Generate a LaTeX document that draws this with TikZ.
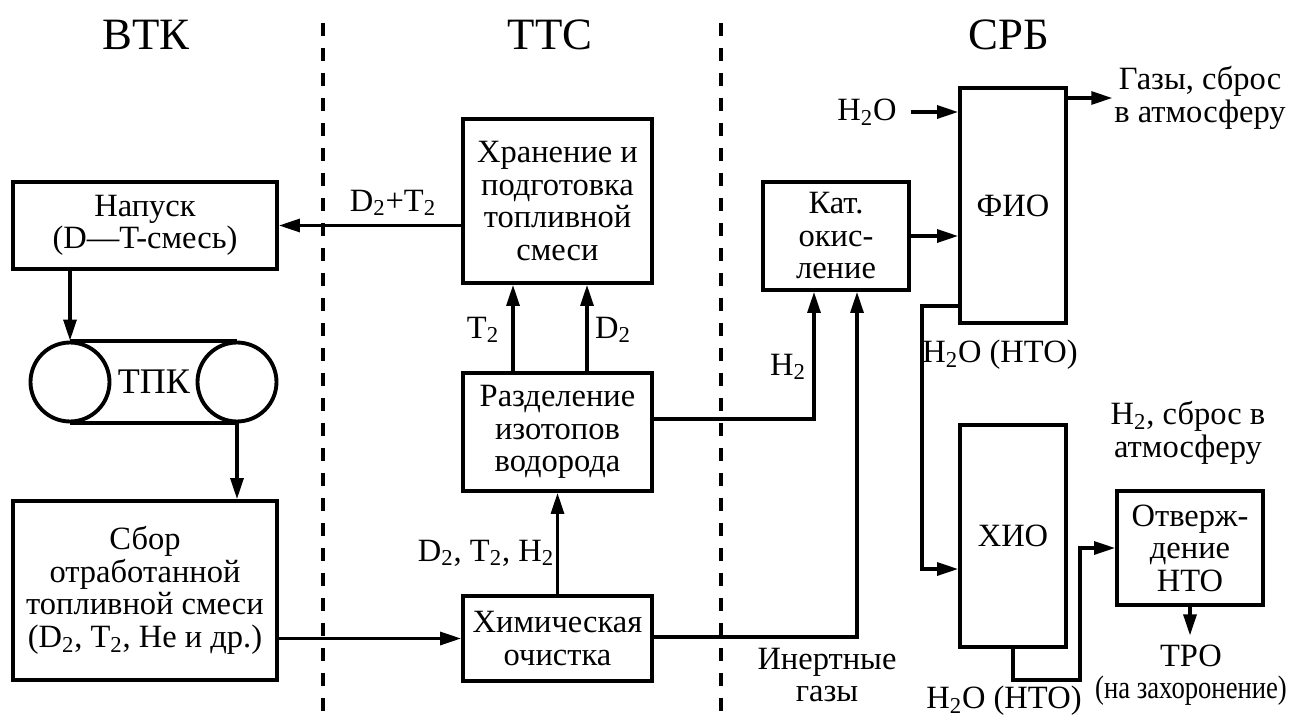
\documentclass[tikz,border=0pt]{standalone}
\usepackage{fontspec}
\setmainfont{Liberation Serif}
\usetikzlibrary{arrows.meta}

\begin{document}
\begin{tikzpicture}[x=0.02cm,y=-0.02cm,
    box/.style={draw,line width=2.2pt,align=center,inner sep=1pt,font=\fontsize{18.5}{18.5}\selectfont},
    lbl/.style={align=center,inner sep=1pt,font=\fontsize{18.5}{18.5}\selectfont},
    ttl/.style={font=\fontsize{25.5}{26}\selectfont},
    arr/.style={-{Triangle[length=0.42cm,width=0.26cm]},line width=1.8pt},
    sep/.style={dash pattern=on 0.26cm off 0.24cm,line width=2pt}]
  \useasboundingbox (0,0) rectangle (1292,720);
  \node[ttl] (vtk) at (146,35) {ВТК};
  \node[ttl] (tts) at (550,35) {ТТС};
  \node[ttl] (srb) at (1009,35) {СРБ};
  \coordinate (s1t) at (323,23); \coordinate (s1b) at (323,712);
  \coordinate (s2t) at (721,23); \coordinate (s2b) at (721,712);
  \draw[sep] (s1t) -- (s1b);
  \draw[sep] (s2t) -- (s2b);
  \node[box,minimum width=5.28cm,minimum height=1.74cm] (nap) at (145,225.5) {Напуск\\(D—T-смесь)};
  \node[draw,circle,line width=2.2pt,minimum size=1.58cm,inner sep=0pt] (tpkL) at (70,382) {};
  \node[draw,circle,line width=2.2pt,minimum size=1.58cm,inner sep=0pt] (tpkR) at (237,382) {};
  \node[lbl,font=\fontsize{20.5}{21}\selectfont] (tpk) at (154,382) {ТПК};
  \node[box,minimum width=5.28cm,minimum height=3.58cm] (sbor) at (145,590.5) {Сбор\\отработанной\\топливной смеси\\(D\textsubscript{2}, T\textsubscript{2}, He и др.)};
  \node[box,minimum width=3.78cm,minimum height=3.28cm] (hran) at (557.5,201) {Хранение и\\подготовка\\топливной\\смеси};
  \node[box,minimum width=3.78cm,minimum height=2.36cm] (razd) at (557.5,432) {Разделение\\изотопов\\водорода};
  \node[box,minimum width=3.78cm,minimum height=1.70cm] (him) at (557.5,638.5) {Химическая\\очистка};
  \node[box,minimum width=2.92cm,minimum height=2.16cm] (kat) at (836,236) {Кат.\\окис-\\ление};
  \node[box,minimum width=2.12cm,minimum height=4.70cm] (fio) at (1013,205.5) {ФИО};
  \node[box,minimum width=2.12cm,minimum height=4.44cm] (hio) at (1013,536) {ХИО};
  \node[box,minimum width=2.92cm,minimum height=2.28cm] (otv) at (1190,548) {Отверж-\\дение\\НТО};
  \node[lbl] (dt) at (393,203) {D\textsubscript{2}+T\textsubscript{2}};
  \node[lbl] (t2) at (483,330) {T\textsubscript{2}};
  \node[lbl] (d2) at (613,330) {D\textsubscript{2}};
  \node[lbl] (dth) at (486,553) {D\textsubscript{2}, T\textsubscript{2}, H\textsubscript{2}};
  \node[lbl] (h2) at (788,367) {H\textsubscript{2}};
  \node[lbl] (inert) at (827,675) {Инертные\\газы};
  \node[lbl] (h2o) at (867,112) {H\textsubscript{2}O};
  \node[lbl] (gas) at (1200,98) {Газы, сброс\\в атмосферу};
  \node[lbl] (hto1) at (1000,355) {H\textsubscript{2}O (НТО)};
  \node[lbl] (hto2) at (1004,701) {H\textsubscript{2}O (НТО)};
  \node[lbl] (h2out) at (1188,433) {H\textsubscript{2}, сброс в\\атмосферу};
  \node[lbl,inner ysep=5pt] (tro) at (1191,675) {ТРО\\\scalebox{0.82}[1]{(на захоронение)}};
  \coordinate (xt) at (513,0);
  \coordinate (xd) at (587,0);
  \coordinate (ch2) at (814,419);
  \coordinate (cin) at (857,637);
  \coordinate (cw) at (922,306);
  \coordinate (chi) at (922,569);
  \coordinate (cb) at (1080,680);
  \draw[line width=2.2pt] (tpkL.north) -- (tpkR.north) (tpkL.south) -- (tpkR.south);
  \draw[arr] (hran.west |- nap.east) -- (nap.east);
  \draw[arr] (tpkL.north |- nap.south) -- (tpkL.north);
  \draw[arr] (tpkR.south) -- (tpkR.south |- sbor.north);
  \draw[arr] (sbor.east |- him.west) -- (him.west);
  \draw[arr] (him.north) -- (razd.south);
  \draw[arr] (razd.north -| xt) -- (hran.south -| xt);
  \draw[arr] (razd.north -| xd) -- (hran.south -| xd);
  \draw[arr] (razd.east |- ch2) -- (ch2) -- (kat.south -| ch2);
  \draw[arr] (him.east |- cin) -- (cin) -- (kat.south -| cin);
  \draw[arr] (kat.east) -- (kat.east -| fio.west);
  \draw[arr] (h2o.east -| kat.east) -- (h2o.east -| fio.west);
  \draw[arr] (fio.east |- gas.west) -- (gas.west);
  \draw[arr] (fio.west |- cw) -- (cw) -- (chi) -- (chi -| hio.west);
  \draw[arr] (hio.south) |- (cb) |- (otv.west);
  \draw[arr] (otv.south) -- (otv.south |- tro.north);
\end{tikzpicture}
\end{document}
